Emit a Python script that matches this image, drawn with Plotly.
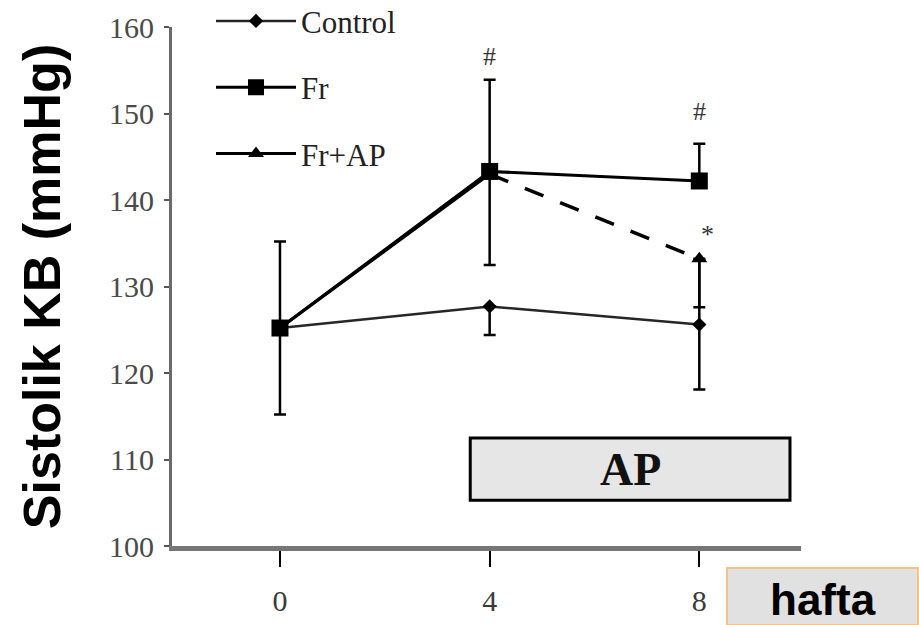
import plotly.graph_objects as go

# Weeks of measurement
weeks = [0, 4, 8]
x_tick_labels = ["0", "4", "8"]
y_ticks = [100, 110, 120, 130, 140, 150, 160]

# Systolic blood pressure (mmHg), mean values per group
control = [125.2, 127.7, 125.6]
fr = [125.2, 143.3, 142.2]
fr_ap = [125.2, 143.0, 133.2]

# Error bar extents (upper / lower)
control_err_up = [0.0, 0.0, 7.5]
control_err_down = [0.0, 3.3, 7.5]
fr_err_up = [10.0, 10.6, 4.3]
fr_err_down = [10.0, 10.8, 0.0]
fr_ap_err_up = [0.0, 0.0, 0.0]
fr_ap_err_down = [0.0, 0.0, 5.6]

# Significance marks: (week, y, symbol)
sig_marks = [(4, 156.6, "#"), (8, 150.2, "#"), (8.15, 136.0, "*")]

SERIF = "Liberation Serif, Times New Roman, serif"
SANS = "Liberation Sans, Arial, sans-serif"

fig = go.Figure()

fig.add_trace(go.Scatter(
    x=weeks, y=control, name="Control", mode="lines+markers",
    legendgroup="c", legendrank=1,
    line=dict(color="#262626", width=2.5),
    marker=dict(symbol="diamond", size=11, color="#000"),
    error_y=dict(type="data", symmetric=False, array=control_err_up,
                 arrayminus=control_err_down, color="#000", thickness=2.5, width=6),
))

# Fr+AP: solid part (shared rise with Fr) and dashed treatment segment
fig.add_trace(go.Scatter(
    x=weeks[:2], y=fr_ap[:2], name="Fr+AP", mode="lines+markers",
    legendgroup="fa", legendrank=3,
    line=dict(color="#000", width=3),
    marker=dict(symbol="triangle-up", size=14, color="#000"),
))
fig.add_trace(go.Scatter(
    x=weeks[1:], y=fr_ap[1:], mode="lines+markers", showlegend=False,
    legendgroup="fa",
    line=dict(color="#000", width=3.5, dash="20px,18px"),
    marker=dict(symbol="triangle-up", size=14, color="#000"),
    error_y=dict(type="data", symmetric=False, array=fr_ap_err_up[1:],
                 arrayminus=fr_ap_err_down[1:], color="#000", thickness=2.5, width=6),
))

fig.add_trace(go.Scatter(
    x=weeks, y=fr, name="Fr", mode="lines+markers",
    legendgroup="f", legendrank=2,
    line=dict(color="#000", width=3),
    marker=dict(symbol="square", size=17, color="#000"),
    error_y=dict(type="data", symmetric=False, array=fr_err_up,
                 arrayminus=fr_err_down, color="#000", thickness=2.5, width=6),
))

for wx, wy, txt in sig_marks:
    fig.add_annotation(x=wx, y=wy, text=txt, showarrow=False,
                       font=dict(family=SERIF, size=26, color="#333"))

# AP treatment bar
fig.add_shape(type="rect", x0=3.63, x1=9.73, y0=105.3, y1=112.5,
              line=dict(color="#000", width=3), fillcolor="#e6e6e6", layer="below")
fig.add_annotation(x=6.68, y=108.9, text="<b>AP</b>", showarrow=False,
                   font=dict(family=SERIF, size=46, color="#111"))

# Unit label box below the axis
fig.add_shape(type="rect", xref="paper", yref="paper",
              x0=(727 - 172) / 629, x1=(918 - 172) / 629,
              y0=(546 - 625) / 519, y1=(546 - 568) / 519,
              line=dict(color="#f5c28f", width=2), fillcolor="#e1e1e1")
fig.add_annotation(xref="paper", yref="paper", x=(823 - 172) / 629, y=(546 - 599) / 519,
                   xanchor="center", yanchor="middle",
                   text="<b>hafta</b>", showarrow=False,
                   font=dict(family=SANS, size=44, color="#000"))

fig.update_layout(
    width=919, height=625,
    margin=dict(l=172, r=118, t=27, b=79, autoexpand=False),
    plot_bgcolor="white", paper_bgcolor="white",
    showlegend=True,
    legend=dict(x=0.062, y=1.063, xanchor="left", yanchor="top",
                bgcolor="rgba(0,0,0,0)", traceorder="grouped",
                tracegroupgap=23, itemwidth=80, itemsizing="trace",
                font=dict(family=SERIF, size=31, color="#222")),
    xaxis=dict(range=[-2.06, 9.94], tickvals=weeks, ticktext=x_tick_labels,
               showgrid=False, zeroline=False, showline=True,
               linecolor="#767676", linewidth=5,
               ticks="outside", ticklen=16, tickwidth=2, tickcolor="#000",
               ticklabelstandoff=8,
               tickfont=dict(family=SERIF, size=30, color="#3a3a3a")),
    yaxis=dict(range=[100, 160], tickvals=y_ticks,
               showgrid=False, zeroline=False, showline=True,
               linecolor="#6a6a6a", linewidth=3,
               ticks="outside", ticklen=5, tickwidth=2, tickcolor="#555",
               ticklabelstandoff=4,
               tickfont=dict(family=SERIF, size=30, color="#4a4a4a"),
               title=dict(text="<b>Sistolik KB (mmHg)</b>", standoff=32,
                          font=dict(family=SANS, size=52, color="#000"))),
)

fig.write_html("out.html")
